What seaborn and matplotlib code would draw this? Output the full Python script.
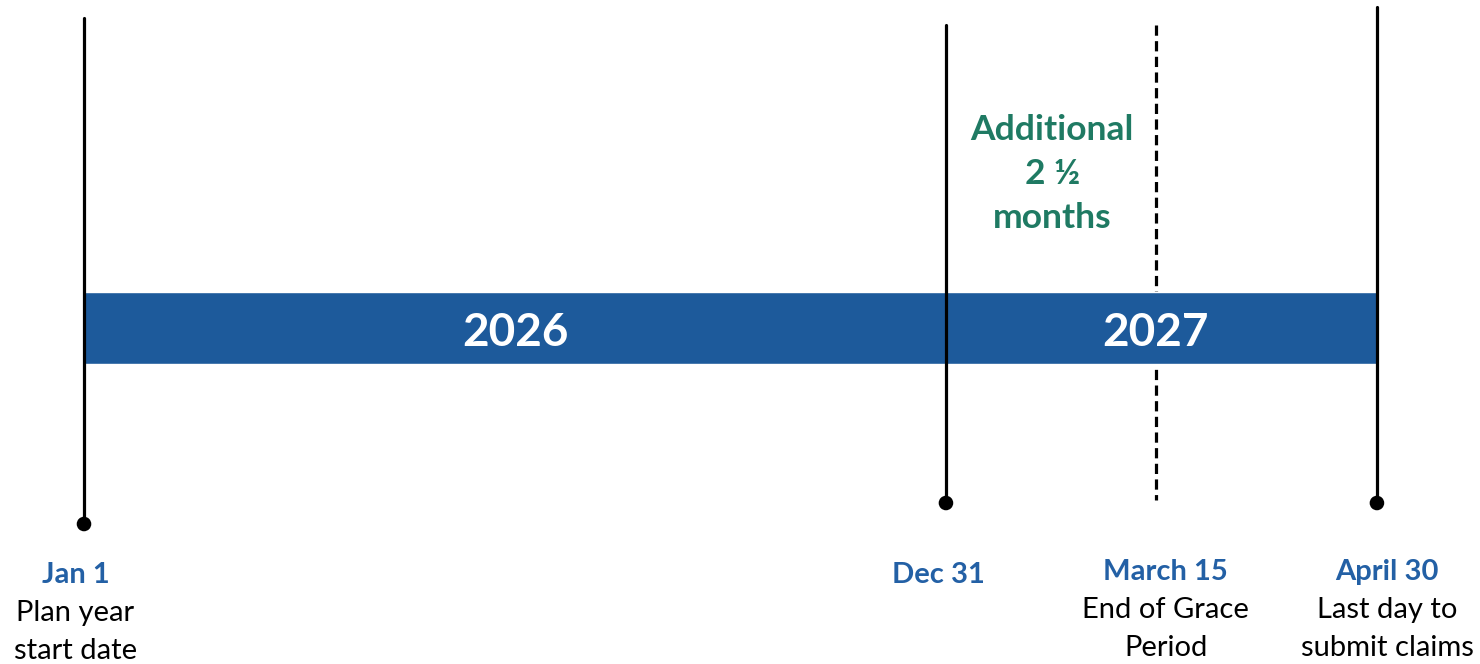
import matplotlib
matplotlib.use("Agg")
import matplotlib.pyplot as plt
import seaborn as sns
import pandas as pd

# ---- data ----
milestone_dates = ["Jan 1", "Dec 31", "March 15", "April 30"]
milestone_notes = [["Plan year", "start date"], [], ["End of Grace", "Period"], ["Last day to", "submit claims"]]
milestone_pos = [0.0, 12.0, 14.92, 18.0]          # schematic timeline position (months)
milestone_style = ["solid", "solid", "dashed", "solid"]
line_top = [18, 25, 25, 7]                        # vertical extent (layout units, top = 0)
line_bottom = [524, 503, 500, 503]
has_dot = [True, True, False, True]
label_y = [575, 575, 572, 572]
label_dx = [-0.12, -0.11, 0.14, 0.14]

year_labels = ["2026", "2027"]
year_pos = [6.0, 14.92]
bar_start, bar_end = 0.0, 18.0
grace_lines = ["Additional", "2 ½", "months"]
grace_pos = 13.48

BAR_BLUE = "#1D5A9B"
LABEL_BLUE = "#2360A5"
GREEN = "#1F7A63"

sns.set_theme(style="white")
plt.rcParams["font.family"] = ["Lato", "DejaVu Sans"]

fig = plt.figure(figsize=(14.8, 6.64), dpi=100)
ax = fig.add_axes([0, 0, 1, 1])
px_per_unit = 71.83
ax.set_xlim(-84 / px_per_unit, (1480 - 84) / px_per_unit)
ax.set_ylim(664, 0)

# bar
ax.barh(y=328, width=bar_end - bar_start, left=bar_start, height=72,
        color=BAR_BLUE, zorder=2)

# vertical lines
for x, st, t, b in zip(milestone_pos, milestone_style, line_top, line_bottom):
    if st == "dashed":
        ax.plot([x, x], [t, b], color="black", lw=2.3,
                linestyle=(0, (3.2, 1.7)), zorder=1)
    else:
        ax.plot([x, x], [t, b], color="black", lw=2.3, zorder=3)

# dots
df = pd.DataFrame({"x": milestone_pos, "y": line_bottom, "dot": has_dot})
df = df[df["dot"]]
sns.scatterplot(data=df, x="x", y="y", s=110, color="black",
                edgecolor="none", ax=ax, zorder=4, legend=False)
ax.set_xlabel("")
ax.set_ylabel("")
ax.axis("off")

# year labels
for lab, x in zip(year_labels, year_pos):
    ax.text(x, 333, lab, color="white", fontsize=33, fontweight="bold",
            ha="center", va="center", zorder=5)

# grace text
for i, line in enumerate(grace_lines):
    ax.text(grace_pos, 130 + 44 * i, line, color=GREEN, fontsize=25.5,
            fontweight="bold", ha="center", va="center", zorder=5)

# milestone labels
for d, notes, x, y, dx in zip(milestone_dates, milestone_notes, milestone_pos, label_y, label_dx):
    ax.text(x + dx, y, d, color=LABEL_BLUE, fontsize=21, fontweight="bold",
            ha="center", va="center")
    for k, n in enumerate(notes):
        ax.text(x + dx, y + 38 * (k + 1), n, color="black", fontsize=21,
                ha="center", va="center")

fig.savefig("out.png", dpi=100)
